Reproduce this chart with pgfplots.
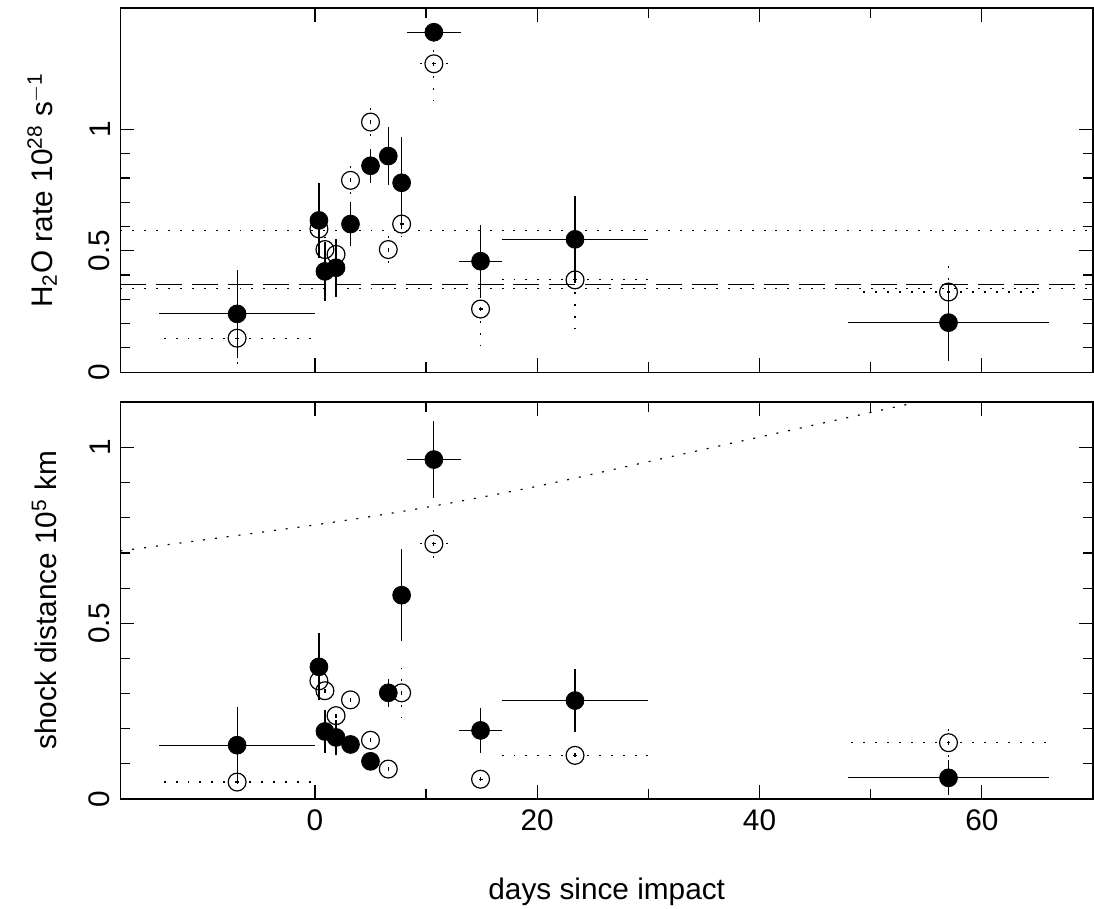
\documentclass[border=0pt]{standalone}
\usepackage{pgfplots}
\pgfplotsset{compat=1.18}
\usepackage{fontspec}
\setmainfont{Liberation Sans}
\begin{document}
\fontsize{15}{18}\selectfont
\pgfplotsset{
  every axis/.style={scale only axis, width=490pt, xmin=-17.5, xmax=70,
    axis line style={line width=0.6pt}, tick style={line width=0.6pt, black},
    major tick length=7pt, minor tick length=5pt,
    xtick={0,20,40,60}, minor x tick num=1, minor y tick num=4,
    yticklabel style={rotate=90}, /pgf/number format/assume math mode=true,
    tick label style={font=\fontsize{15}{18}\selectfont},
    label style={font=\fontsize{15}{18}\selectfont}},
  filled/.style={only marks, mark=*, mark size=4.5pt, black,
    error bars/.cd, x dir=both, y dir=both, x explicit, y explicit, error mark=none,
    error bar style={line width=0.6pt, solid}},
  open/.style={only marks, mark=o, mark size=4.5pt, black, mark options={line width=0.6pt, fill=white},
    error bars/.cd, x dir=both, y dir=both, x explicit, y explicit, error mark=none,
    error bar style={line width=0.6pt, dash pattern=on 1pt off 5pt}},
}
\pgfplotstableread{
x y ex ey
-7 0.24 7 0.18
0.36 0.625 0 0.155
0.9 0.415 0 0.12
1.9 0.43 0 0.12
3.2 0.61 0.5 0.09
5.0 0.85 0.6 0.07
6.6 0.89 0 0.12
7.8 0.78 0 0.19
10.7 1.40 2.4 0.04
14.9 0.457 1.9 0.15
23.4 0.547 6.6 0.18
57 0.204 9 0.16
}\topfilled
\pgfplotstableread{
x y ex ey
-7 0.14 7 0.12
0.36 0.59 0 0.05
0.9 0.505 0 0.05
1.9 0.485 0 0.05
3.2 0.79 0 0.07
5.0 1.03 0 0.07
6.6 0.505 0 0.07
7.8 0.61 0.5 0.05
10.7 1.27 1.5 0.15
14.9 0.26 1 0.15
23.4 0.38 6.6 0.2
57 0.33 8 0.14
}\topopen
\pgfplotstableread{
x y ex ey
-7 0.153 7 0.11
0.36 0.376 0 0.095
0.9 0.192 0 0.06
1.9 0.175 0 0.05
3.2 0.155 0.5 0.02
5.0 0.107 0.5 0.01
6.6 0.302 0 0.04
7.8 0.58 0 0.13
10.7 0.966 2.4 0.11
14.9 0.195 1.9 0.065
23.4 0.28 6.6 0.09
57 0.06 9 0.05
}\botfilled
\pgfplotstableread{
x y ex ey
-7 0.048 7 0.03
0.36 0.336 0 0.03
0.9 0.308 0 0.03
1.9 0.237 0 0.03
3.2 0.282 0 0.02
5.0 0.167 0 0.01
6.6 0.085 0 0.01
7.8 0.302 0 0.07
10.7 0.726 1.5 0.06
14.9 0.056 1 0.01
23.4 0.124 6.6 0.01
57 0.16 9 0.06
}\botopen
\begin{tikzpicture}
\useasboundingbox (-56.5pt,4pt) rectangle (490.5pt,-453.5pt);
\begin{axis}[name=top, at={(0,0)}, anchor=north west, height=183.5pt,
  ymin=0, ymax=1.5, ytick={0,0.5,1}, yticklabels={0,0.5,1}, xticklabels={},
  ylabel={H\textsubscript{2}O rate 10\textsuperscript{28} s\textsuperscript{$-$1}}, ylabel style={yshift=6pt}]
\addplot[black, line width=0.6pt, dash pattern=on 1pt off 5pt] coordinates {(-17.5,0.584) (70,0.584)};
\addplot[black, line width=0.6pt, dash pattern=on 13pt off 5pt] coordinates {(-17.5,0.36) (70,0.36)};
\addplot[black, line width=0.6pt, dash pattern=on 1pt off 5pt] coordinates {(-17.5,0.343) (70,0.343)};
\addplot[open] table[x=x, y=y, x error=ex, y error=ey] {\topopen};
\addplot[filled] table[x=x, y=y, x error=ex, y error=ey] {\topfilled};
\end{axis}
\begin{axis}[name=bot, at={(0,-198.5pt)}, anchor=north west, height=200pt,
  ymin=0, ymax=1.13, ytick={0,0.5,1}, yticklabels={0,0.5,1},
  xlabel={days since impact}, xlabel style={yshift=-14pt},
  ylabel={shock distance 10\textsuperscript{5} km}, ylabel style={yshift=6pt}]
\addplot[black, line width=0.6pt, dash pattern=on 1pt off 5pt, smooth] coordinates {(-17.5,0.706) (0,0.78) (10,0.83) (20,0.89) (30,0.96) (40,1.03) (50,1.10) (55,1.135)};
\addplot[open] table[x=x, y=y, x error=ex, y error=ey] {\botopen};
\addplot[filled] table[x=x, y=y, x error=ex, y error=ey] {\botfilled};
\end{axis}
\end{tikzpicture}
\end{document}
